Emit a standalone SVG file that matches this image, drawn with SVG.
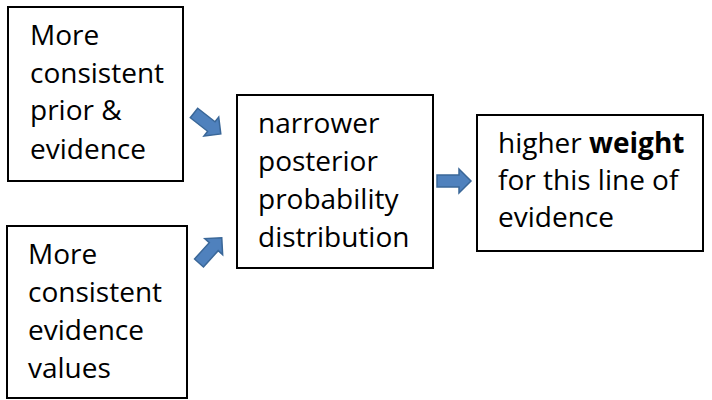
<svg xmlns="http://www.w3.org/2000/svg" width="712" height="400" viewBox="0 0 712 400">
  <style>
    .box { fill: #ffffff; stroke: #000000; stroke-width: 2; }
    .label { font-family: "Open Sans", "Liberation Sans", sans-serif; font-size: 28px; fill: #000000; }
    .bold { font-weight: bold; }
    .arrow { fill: #4F81BD; stroke: #3A6798; stroke-width: 1.5; stroke-linejoin: miter; }
  </style>
  <defs>
    <!-- block arrow pointing right, origin at the tail centre -->
    <path id="blockArrow" d="M0,-6 L22,-6 L22,-12 L34,0 L22,12 L22,6 L0,6 Z"/>
  </defs>
  <rect width="712" height="400" fill="#ffffff"/>

  <g id="node-prior">
    <rect class="box" x="8" y="7" width="175" height="174"/>
    <text class="label" x="30" y="45">More</text>
    <text class="label" x="30" y="83">consistent</text>
    <text class="label" x="30" y="120">prior &amp;</text>
    <text class="label" x="30" y="159">evidence</text>
  </g>

  <g id="node-values">
    <rect class="box" x="7" y="226" width="180" height="172"/>
    <text class="label" x="28" y="264">More</text>
    <text class="label" x="28" y="302">consistent</text>
    <text class="label" x="28" y="340">evidence</text>
    <text class="label" x="28" y="378">values</text>
  </g>

  <g id="node-posterior">
    <rect class="box" x="237" y="95" width="196" height="173"/>
    <text class="label" x="258" y="133">narrower</text>
    <text class="label" x="258" y="171">posterior</text>
    <text class="label" x="258" y="209">probability</text>
    <text class="label" x="258" y="247">distribution</text>
  </g>

  <g id="node-weight">
    <rect class="box" x="477" y="115" width="226" height="136"/>
    <text class="label" x="498" y="153">higher <tspan class="bold">weight</tspan></text>
    <text class="label" x="498" y="190">for this line of</text>
    <text class="label" x="498" y="227">evidence</text>
  </g>

  <g id="connectors">
    <use href="#blockArrow" class="arrow" transform="translate(194,113) rotate(38)"/>
    <use href="#blockArrow" class="arrow" transform="translate(199,263) rotate(-48)"/>
    <use href="#blockArrow" class="arrow" transform="translate(437,181)"/>
  </g>
</svg>
